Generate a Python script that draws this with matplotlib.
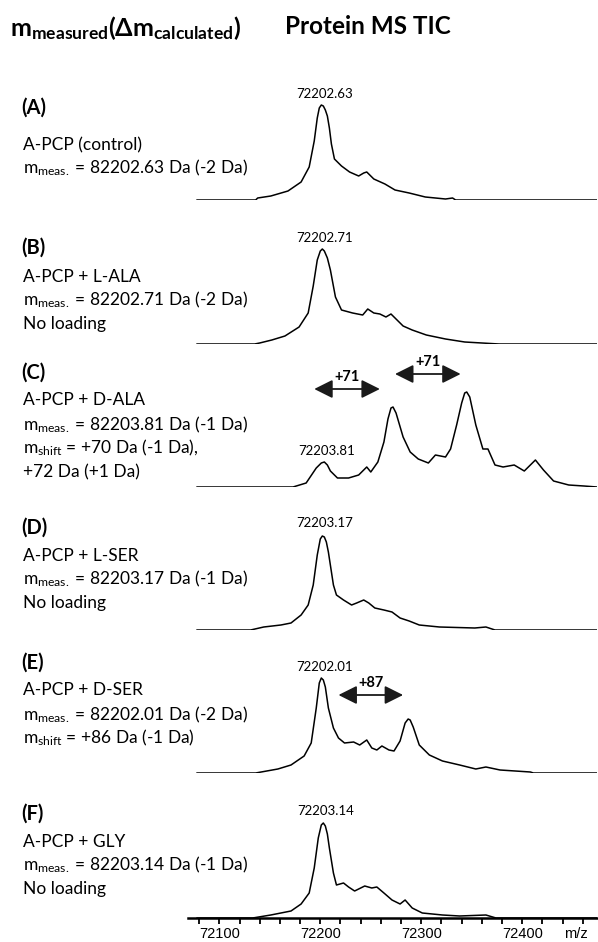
import matplotlib.pyplot as plt

# --- traced spectra (m/z, relative intensity 0-100) ---
mz_a = [72078, 72136, 72138, 72151, 72168, 72181, 72189, 72194, 72197, 72199, 72201, 72203,
        72205, 72207, 72209, 72211, 72214, 72221, 72229, 72238, 72243, 72246, 72253, 72264,
        72274, 72288, 72304, 72324, 72331, 72334, 72474]
int_a = [0, 0, 2, 4, 9, 18, 33, 59, 82, 92, 95, 94, 90, 84, 72, 56, 41, 34, 28, 24, 27, 28, 21,
         16, 10, 7, 3, 1, 2, 0, 0]

mz_b = [72078, 72135, 72140, 72152, 72165, 72179, 72188, 72193, 72197, 72200, 72202, 72204,
        72207, 72210, 72215, 72221, 72232, 72242, 72247, 72253, 72259, 72265, 72270, 72276,
        72282, 72291, 72305, 72324, 72343, 72377, 72474]
int_b = [0, 0, 1, 4, 8, 17, 31, 58, 84, 93, 95, 93, 86, 74, 47, 34, 31, 29, 35, 31, 30, 27, 30,
         24, 18, 14, 9, 5, 2, 0, 0]

mz_c = [72078, 72173, 72186, 72196, 72201, 72204, 72207, 72210, 72217, 72228, 72238, 72246,
        72250, 72257, 72263, 72267, 72270, 72272, 72275, 72282, 72289, 72297, 72307, 72314,
        72324, 72329, 72335, 72340, 72343, 72345, 72348, 72354, 72361, 72366, 72373, 72381,
        72392, 72402, 72413, 72421, 72431, 72446, 72461, 72474]
int_c = [0, 0, 4, 19, 24, 25, 22, 16, 9, 9, 12, 20, 15, 25, 45, 68, 79, 80, 74, 50, 35, 28, 24,
         32, 30, 38, 62, 84, 94, 95, 90, 62, 38, 38, 22, 20, 22, 16, 27, 17, 6, 2, 1, 0]

mz_d = [72078, 72131, 72144, 72161, 72171, 72181, 72188, 72193, 72197, 72200, 72202, 72204,
        72206, 72208, 72213, 72216, 72223, 72231, 72236, 72243, 72248, 72254, 72263, 72271,
        72279, 72288, 72298, 72318, 72353, 72364, 72373, 72474]
int_d = [0, 0, 3, 5, 7, 15, 25, 45, 75, 91, 94, 93, 88, 78, 45, 35, 30, 25, 27, 30, 27, 22, 20,
         18, 12, 9, 5, 3, 2, 3, 0, 0]

mz_e = [72078, 72136, 72158, 72171, 72184, 72191, 72196, 72199, 72201, 72203, 72205, 72208,
        72213, 72218, 72224, 72233, 72239, 72246, 72251, 72256, 72261, 72268, 72273, 72279,
        72284, 72287, 72289, 72292, 72298, 72308, 72321, 72338, 72354, 72364, 72378, 72408,
        72411, 72474]
int_e = [0, 0, 4, 8, 17, 30, 65, 90, 95, 93, 86, 65, 45, 35, 30, 31, 28, 33, 25, 23, 27, 23,
         22, 32, 50, 54, 53, 46, 28, 18, 12, 8, 4, 6, 3, 1, 0, 0]

mz_f = [72078, 72133, 72151, 72171, 72181, 72189, 72194, 72198, 72201, 72203, 72205, 72207,
        72209, 72213, 72216, 72223, 72228, 72234, 72244, 72251, 72256, 72263, 72271, 72279,
        72284, 72291, 72301, 72321, 72338, 72364, 72374, 72474]
int_f = [0, 0, 3, 7, 14, 25, 50, 80, 93, 95, 92, 84, 70, 45, 33, 35, 31, 27, 32, 30, 31, 25,
         18, 14, 18, 10, 5, 3, 2, 3, 0, 0]

peak_labels = ["72202.63", "72202.71", "72203.81", "72203.17", "72202.01", "72203.14"]
peak_pos = [(72204, 106), (72204, 106), (72206, 36), (72204, 107), (72204, 106), (72205, 107)]

panel_tags = ["(A)", "(B)", "(C)", "(D)", "(E)", "(F)"]
panel_lines = [
    ["A-PCP (control)", r"$\mathrm{m}_{\mathrm{meas.}}$ = 82202.63 Da (-2 Da)"],
    ["A-PCP + L-ALA", r"$\mathrm{m}_{\mathrm{meas.}}$ = 82202.71 Da (-2 Da)", "No loading"],
    ["A-PCP + D-ALA", r"$\mathrm{m}_{\mathrm{meas.}}$ = 82203.81 Da (-1 Da)",
     r"$\mathrm{m}_{\mathrm{shift}}$ = +70 Da (-1 Da),", "+72 Da (+1 Da)"],
    ["A-PCP + L-SER", r"$\mathrm{m}_{\mathrm{meas.}}$ = 82203.17 Da (-1 Da)", "No loading"],
    ["A-PCP + D-SER", r"$\mathrm{m}_{\mathrm{meas.}}$ = 82202.01 Da (-2 Da)",
     r"$\mathrm{m}_{\mathrm{shift}}$ = +86 Da (-1 Da)"],
    ["A-PCP + GLY", r"$\mathrm{m}_{\mathrm{meas.}}$ = 82203.14 Da (-1 Da)", "No loading"],
]

# mass-shift arrows: panel index, start, end, height, label
shift_arrows = [(2, 72194, 72259, 98, "+71"), (2, 72274, 72339, 113, "+71"),
                (4, 72218, 72282, 78, "+87")]

major_ticks = [72100, 72200, 72300, 72400]
minor_ticks = list(range(72080, 72461, 20))

plt.rcParams["font.family"] = ["Lato", "DejaVu Sans"]
plt.rcParams["mathtext.fontset"] = "custom"
plt.rcParams["mathtext.rm"] = "Lato"
plt.rcParams["mathtext.bf"] = "Lato:bold"
plt.rcParams["mathtext.it"] = "Lato:italic"
plt.rcParams["mathtext.fallback"] = "stixsans"

W, H = 598, 942
fig = plt.figure(figsize=(W / 100, H / 100), dpi=100)


def fx(x):
    return x / W


def fy(y):
    return 1 - y / H


# header
fig.text(fx(10), fy(28),
         r"$\mathbf{m}_{\mathbf{measured}}\mathbf{(\Delta m}_{\mathbf{calculated}}\mathbf{)}$",
         fontsize=18, va="center", ha="left")
fig.text(fx(285), fy(26), "Protein MS TIC", fontsize=17.5, fontweight="bold",
         va="center", ha="left")

baselines = [200, 344, 487, 630, 773, 918]
tag_y = [108, 248, 373, 528, 663, 814]
line_y = [[145, 168], [277, 300, 324], [400, 425, 448, 472], [556, 579, 603],
          [690, 715, 738], [842, 865, 889]]
spectra = [(mz_a, int_a), (mz_b, int_b), (mz_c, int_c), (mz_d, int_d), (mz_e, int_e),
           (mz_f, int_f)]

axes = []
for i, base in enumerate(baselines):
    ax = fig.add_axes([fx(188), fy(base), 409 / W, 100 / H])
    ax.set_xlim(72069, 72474)
    ax.set_ylim(0, 100)
    mz, inten = spectra[i]
    ax.plot(mz, inten, color="black", lw=1.1, solid_joinstyle="round")
    px, py = peak_pos[i]
    ax.text(px, py, peak_labels[i], fontsize=9.5, ha="center", va="center", clip_on=False)
    for s in ax.spines.values():
        s.set_visible(False)
    ax.set_yticks([])
    ax.set_xticks([])
    ax.patch.set_visible(False)
    axes.append(ax)

    fig.text(fx(21), fy(tag_y[i]), panel_tags[i], fontsize=14.5, fontweight="bold",
             va="center", ha="left")
    for txt, yy in zip(panel_lines[i], line_y[i]):
        fig.text(fx(23), fy(yy), txt, fontsize=12.5, va="center", ha="left")

for idx, x0, x1, yy, lab in shift_arrows:
    ax = axes[idx]
    ax.annotate("", xy=(x1, yy), xytext=(x0, yy), annotation_clip=False,
                arrowprops=dict(arrowstyle="<|-|>,head_length=0.8,head_width=0.4",
                                color="#1a1a1a", lw=1.3, shrinkA=0, shrinkB=0,
                                mutation_scale=14))
    ax.text((x0 + x1) / 2, yy + 12, lab, fontsize=10.5, fontweight="bold",
            ha="center", va="center", clip_on=False)

# bottom m/z axis on last panel
axf = axes[-1]
axf.spines["bottom"].set_visible(True)
axf.spines["bottom"].set_linewidth(1.8)
axf.set_xticks(major_ticks)
axf.set_xticks(minor_ticks, minor=True)
axf.set_xticklabels([str(t) for t in major_ticks], fontsize=10.5,
                    family="Liberation Sans")
axf.tick_params(axis="x", which="both", direction="out", length=4.5, width=1.3, pad=2)
axf.text(72453, -0.16, "m/z", transform=axf.get_xaxis_transform(), fontsize=10.5,
         family="Liberation Sans", ha="center", va="center")

plt.savefig("out.png", dpi=100)
